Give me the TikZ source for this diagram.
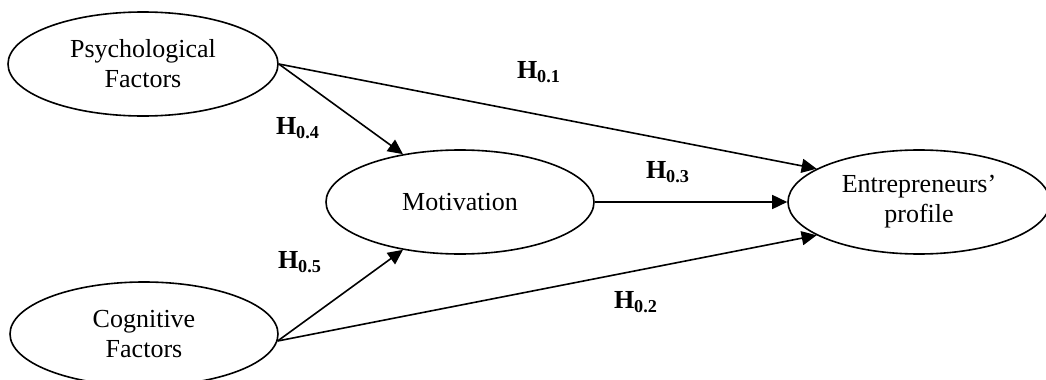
\documentclass[tikz,border=0pt]{standalone}
\usepackage{fontspec}
\setmainfont{Liberation Serif}
\usetikzlibrary{arrows.meta,shapes.geometric}

\begin{document}
\begin{tikzpicture}[
        x=0.5pt, y=-0.5pt,
        font=\fontsize{13}{15}\selectfont,
        factor/.style={draw, ellipse, line width=0.8pt, align=center, inner sep=0pt, minimum width=134pt, minimum height=52pt},
        arr/.style={-{Triangle[length=7.5pt, width=7pt]}, line width=0.8pt},
        hyp/.style={font=\fontsize{13}{15}\selectfont\bfseries}
    ]
        \useasboundingbox (0,0) rectangle (1046,380);
        \clip (0,0) rectangle (1046,380);
        \node[factor, minimum width=135pt] (psych) at (143,64) {Psychological\\Factors};
        \node[factor] (cog) at (144,334) {Cognitive\\Factors};
        \node[factor] (mot) at (460,202) {Motivation};
        \node[factor, minimum width=131pt] (entr) at (919,202) {Entrepreneurs'\\profile};
        \node[hyp] (h01) at (539,72) {H\textsubscript{0.1}};
        \node[hyp] (h02) at (636,302) {H\textsubscript{0.2}};
        \node[hyp] (h03) at (668,172) {H\textsubscript{0.3}};
        \node[hyp] (h04) at (298,128) {H\textsubscript{0.4}};
        \node[hyp] (h05) at (300,262) {H\textsubscript{0.5}};
        \draw[arr] (psych.east) -- (entr.162);
        \draw[arr] (psych.east) -- (mot.140);
        \draw[arr] (mot.east) -- (entr.west);
        \draw[arr] (cog.-3) -- (mot.220);
        \draw[arr] (cog.-3) -- (entr.198);
    \end{tikzpicture}
\end{document}
